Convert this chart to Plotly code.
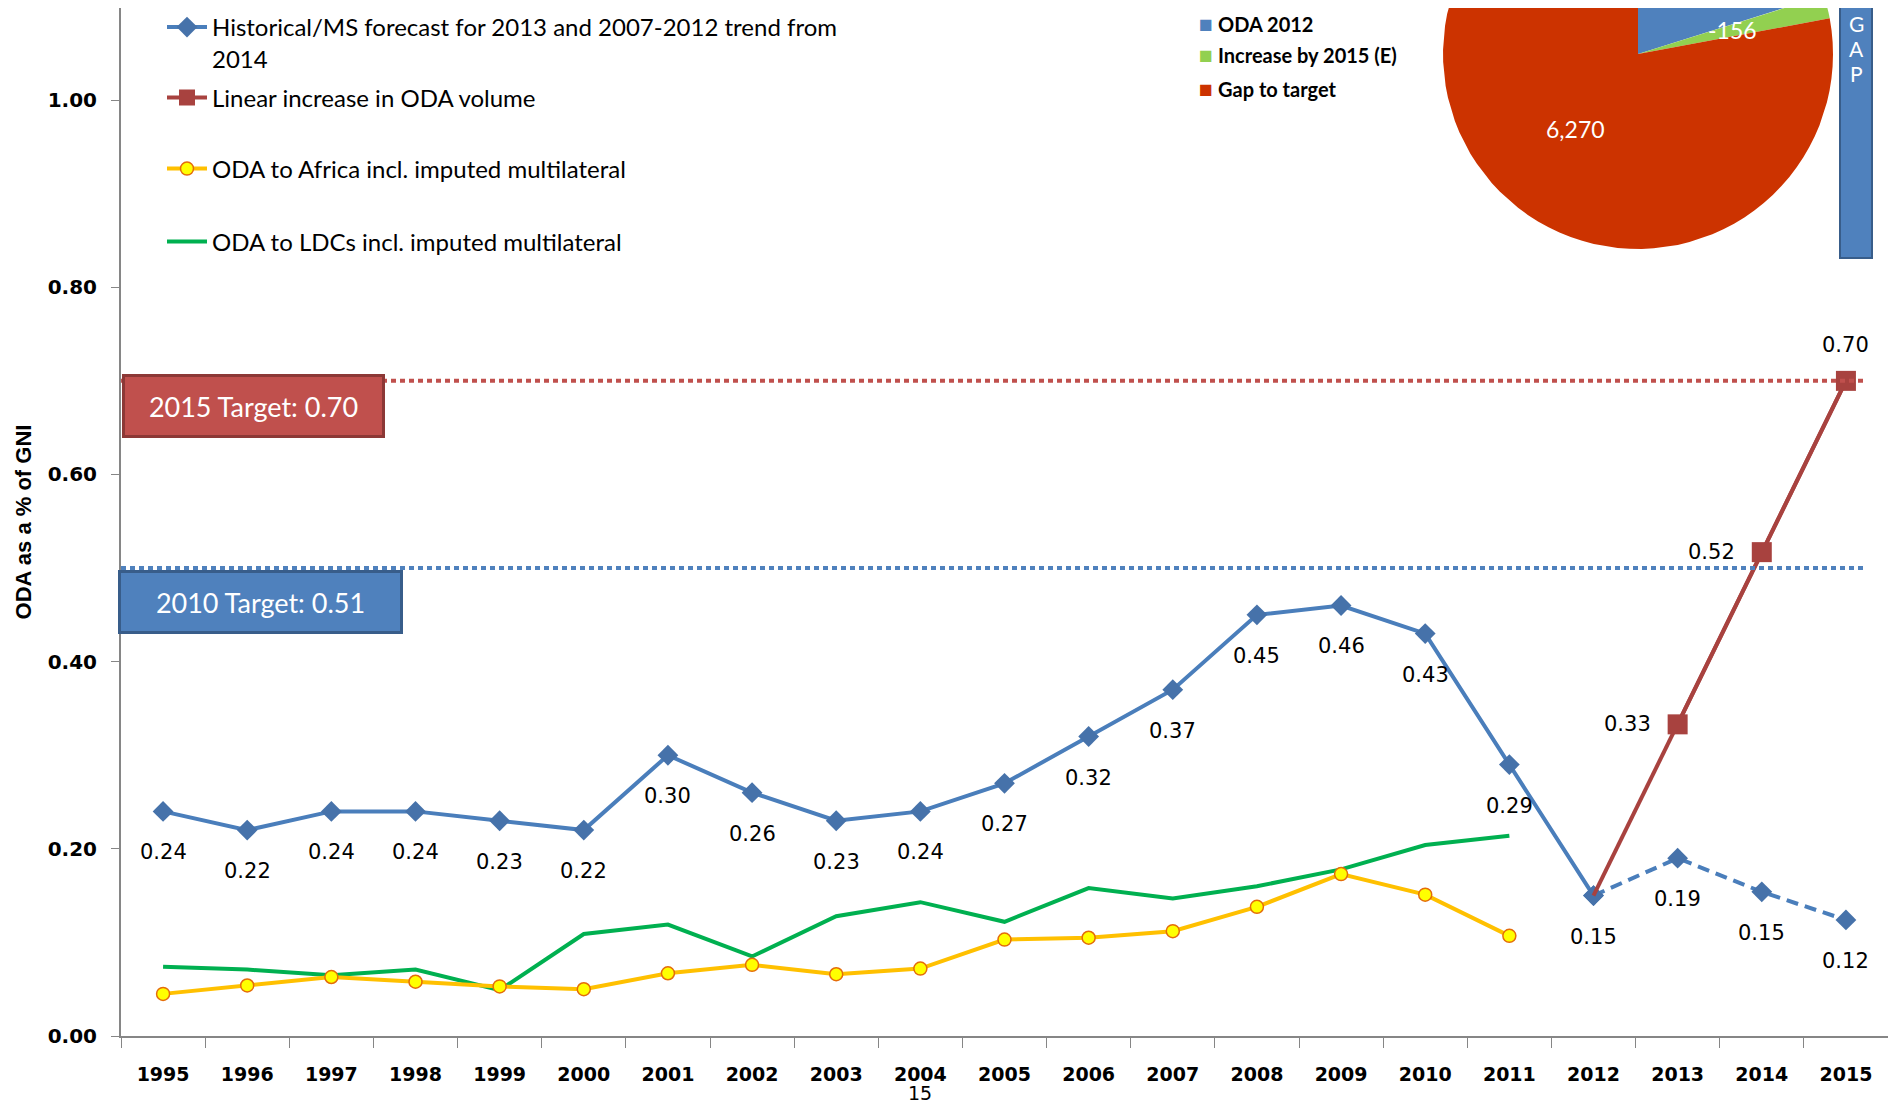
import numpy as np
import plotly.graph_objects as go

# ---- data ----
years = [str(y) for y in range(1995, 2016)]

hist_years = years[:18]          # 1995-2012
hist_vals = [0.24, 0.22, 0.24, 0.24, 0.23, 0.22, 0.30, 0.26, 0.23, 0.24,
             0.27, 0.32, 0.37, 0.45, 0.46, 0.43, 0.29, 0.15]

fc_years = ['2012', '2013', '2014', '2015']   # MS forecast / trend
fc_vals = [0.15, 0.19, 0.154, 0.124]

lin_years = ['2012', '2013', '2014', '2015']  # linear increase to target
lin_vals = [0.15, 0.333, 0.517, 0.70]

africa_years = years[:17]        # 1995-2011
africa_vals = [0.045, 0.054, 0.063, 0.058, 0.053, 0.050, 0.067, 0.076, 0.066,
               0.072, 0.103, 0.105, 0.112, 0.138, 0.173, 0.151, 0.107]

ldc_years = years[:17]
ldc_vals = [0.074, 0.071, 0.065, 0.071, 0.049, 0.109, 0.119, 0.085, 0.128,
            0.143, 0.122, 0.158, 0.147, 0.160, 0.178, 0.204, 0.214]

target_levels = [0.70, 0.50]
target_text = ['2015 Target: 0.70', '2010 Target: 0.51']

pie_labels = ['ODA 2012', 'Increase by 2015 (E)', 'Gap to target']
pie_values = [1620, 156, 6270]
pie_text = ['', '-156', '6,270']

# ---- look ----
# the page body has an 8px margin, so the figure is drawn 8px smaller and
# everything below is placed in page pixels minus that offset
OFF = 8
W, H = 1896 - OFF, 1103 - OFF
P_L, P_R, P_T, P_B = 121, 1888, 8, 1036      # plot area in page pixels
ML, MR, MT, MB = P_L - OFF, W - (P_R - OFF), P_T - OFF, H - (P_B - OFF)
plot_w = P_R - P_L
plot_h = P_B - P_T
px_per_unit = 935.9                            # y px per 1.0 % of GNI
y_top = (P_B - P_T) / px_per_unit

def pxx(px):   # page pixel -> paper
    return (px - P_L) / plot_w

def pxy(py):
    return (P_B - py) / plot_h

xi = {y: i for i, y in enumerate(years)}   # category index for annotations

c_blue = '#4A7EBB'
c_blue_m = '#4672AA'
c_red = '#A8423F'
c_yel = '#FFC000'
c_green = '#00B050'
pie_colors = ['#4F81BD', '#92D050', '#CC3300']
lab_font = dict(family='DejaVu Sans', size=21, color='black')
tick_font = dict(family='DejaVu Sans', size=19, color='black', weight='bold')
leg_font = dict(family='Lato', size=24, color='black')

# pie inset lives on hidden axes measured in pie radii
pie_cx, pie_cy, pie_r = 1638, 54, 195
x2_range = [(P_L - pie_cx) / pie_r, (P_R - pie_cx) / pie_r]
y2_range = [-(P_B - pie_cy) / pie_r, (pie_cy - P_T) / pie_r]

fig = go.Figure()

# pie wedges (12 o'clock, clockwise)
ang = np.concatenate([[0], np.cumsum(pie_values)]) / np.sum(pie_values) * 2 * np.pi
for i, col in enumerate(pie_colors):
    th = np.linspace(ang[i], ang[i + 1], 80)
    fig.add_trace(go.Scatter(
        x=np.concatenate([[0], np.sin(th), [0]]),
        y=np.concatenate([[0], np.cos(th), [0]]),
        mode='lines', fill='toself', fillcolor=col, line=dict(width=0),
        xaxis='x2', yaxis='y2', showlegend=False, hoverinfo='skip'))

fig.add_trace(go.Scatter(
    x=ldc_years, y=ldc_vals, mode='lines',
    line=dict(color=c_green, width=4),
    name='ODA to LDCs incl. imputed multilateral', legend='legend4'))
fig.add_trace(go.Scatter(
    x=africa_years, y=africa_vals, mode='lines+markers',
    line=dict(color=c_yel, width=4),
    marker=dict(symbol='circle', size=13, color='#FFFF00',
                line=dict(color='#E46C0A', width=1.5)),
    name='ODA to Africa incl. imputed multilateral', legend='legend3'))
fig.add_trace(go.Scatter(
    x=hist_years, y=hist_vals, mode='lines+markers',
    line=dict(color=c_blue, width=4),
    marker=dict(symbol='diamond', size=16, color=c_blue_m),
    name='Historical/MS forecast for 2013 and 2007-2012 trend from<br>2014',
    legend='legend'))
fig.add_trace(go.Scatter(
    x=fc_years, y=fc_vals, mode='lines+markers',
    line=dict(color=c_blue, width=4, dash='12px,7px'),
    marker=dict(symbol='diamond', size=16, color=c_blue_m),
    showlegend=False))
# red: segment from 2012 has no marker
fig.add_trace(go.Scatter(
    x=lin_years, y=lin_vals, mode='lines',
    line=dict(color=c_red, width=4), showlegend=False))
fig.add_trace(go.Scatter(
    x=lin_years[1:], y=lin_vals[1:], mode='lines+markers',
    line=dict(color=c_red, width=4),
    marker=dict(symbol='square', size=20, color=c_red),
    name='Linear increase in ODA volume', legend='legend2'))

ann = []
# data labels
for x, v in zip(hist_years + fc_years[1:], hist_vals + fc_vals[1:]):
    ann.append(dict(x=xi[x], y=v, xref='x', yref='y', text=f'{v:.2f}',
                    showarrow=False, yshift=-41, font=lab_font))
for i, (x, v) in enumerate(zip(lin_years[1:], lin_vals[1:])):
    last = i == len(lin_vals) - 2
    ann.append(dict(x=xi[x], y=v, xref='x', yref='y', text=f'{v:.2f}',
                    showarrow=False, font=lab_font,
                    xshift=0 if last else -50, yshift=36 if last else 0))

# target lines and boxes
shapes = []
tcol = [('#C0504D', '#8C3836'), ('#4F81BD', '#385D8A')]
for lvl, txt, (fc, bc), ys in zip(target_levels, target_text, tcol, [7, -2]):
    shapes.append(dict(type='line', xref='paper', yref='y', x0=0, x1=pxx(1866),
                       y0=lvl, y1=lvl, line=dict(color=fc, width=4, dash='5px,4px')))
    ann.append(dict(x=0, y=lvl, xref='paper', yref='y', xanchor='left',
                    yanchor='top', yshift=ys, xshift=1 if ys > 0 else -3,
                    text=txt, showarrow=False, bgcolor=fc, bordercolor=bc,
                    borderwidth=3, width=255 if ys > 0 else 277, height=56,
                    font=dict(family='Lato', size=27, color='white')))

# pie labels at half radius
for i, t in enumerate(pie_text):
    if not t:
        continue
    mid = (ang[i] + ang[i + 1]) / 2
    ann.append(dict(x=0.5 * np.sin(mid), y=0.5 * np.cos(mid), xref='x2', yref='y2',
                    text=t, showarrow=False,
                    font=dict(family='Lato', size=23, color='white')))

# pie legend
for lab, col, py in zip(pie_labels, pie_colors, [23, 54, 88]):
    ann.append(dict(x=pxx(1197), y=pxy(py), xref='paper', yref='paper',
                    xanchor='left', yanchor='middle', showarrow=False,
                    text=f'<span style="color:{col};font-size:23px">■</span> <b>{lab}</b>',
                    font=dict(family='Lato', size=20, color='black')))

# GAP box
shapes.append(dict(type='rect', xref='x2', yref='y2',
                   x0=(1840 - pie_cx) / pie_r, x1=(1872 - pie_cx) / pie_r,
                   y0=-(258 - pie_cy) / pie_r, y1=1.0,
                   fillcolor='#4F81BD', line=dict(color='#385D8A', width=2)))
for ch, py in zip('GAP', [23, 48, 73]):
    ann.append(dict(x=(1856 - pie_cx) / pie_r, y=-(py - pie_cy) / pie_r,
                    xref='x2', yref='y2', text=ch, showarrow=False,
                    font=dict(family='Lato', size=21, color='white')))

# stray page number under the axis
ann.append(dict(x=xi['2004'], y=pxy(1103), xref='x', yref='paper', text='15',
                yanchor='bottom', yshift=-3, showarrow=False,
                font=dict(tick_font, weight='normal', size=19)))

leg_common = dict(font=leg_font, bgcolor='rgba(0,0,0,0)', xanchor='left',
                  yanchor='middle', x=pxx(162), itemwidth=40)
fig.update_layout(
    width=W, height=H,
    margin=dict(l=ML, r=MR, t=MT, b=MB, autoexpand=False),
    paper_bgcolor='white', plot_bgcolor='white',
    showlegend=True,
    legend=dict(leg_common, y=pxy(43), valign='top'),
    legend2=dict(leg_common, y=pxy(98)),
    legend3=dict(leg_common, y=pxy(169)),
    legend4=dict(leg_common, y=pxy(242)),
    xaxis=dict(type='category', categoryorder='array', categoryarray=years,
               range=[-0.5, len(years) - 0.5], tickson='boundaries',
               ticks='outside', ticklen=10, tickcolor='#868686',
               showline=True, linecolor='#868686', linewidth=2,
               showgrid=False, ticklabelstandoff=20, automargin=False,
               tickfont=tick_font),
    yaxis=dict(range=[0, y_top], tickvals=[0, 0.2, 0.4, 0.6, 0.8, 1.0],
               tickformat='.2f', ticks='outside', ticklen=8, tickcolor='#868686',
               showline=True, linecolor='#868686', linewidth=2,
               showgrid=False, zeroline=False, ticklabelstandoff=10,
               automargin=False, tickfont=dict(tick_font, size=20),
               title=dict(text='<b>ODA as a % of GNI</b>', standoff=10,
                          font=dict(family='Liberation Sans', size=22, color='black'))),
    xaxis2=dict(overlaying='x', range=x2_range, visible=False),
    yaxis2=dict(overlaying='y', range=y2_range, visible=False),
    shapes=shapes,
    annotations=ann,
)

fig.write_html('out.html')
